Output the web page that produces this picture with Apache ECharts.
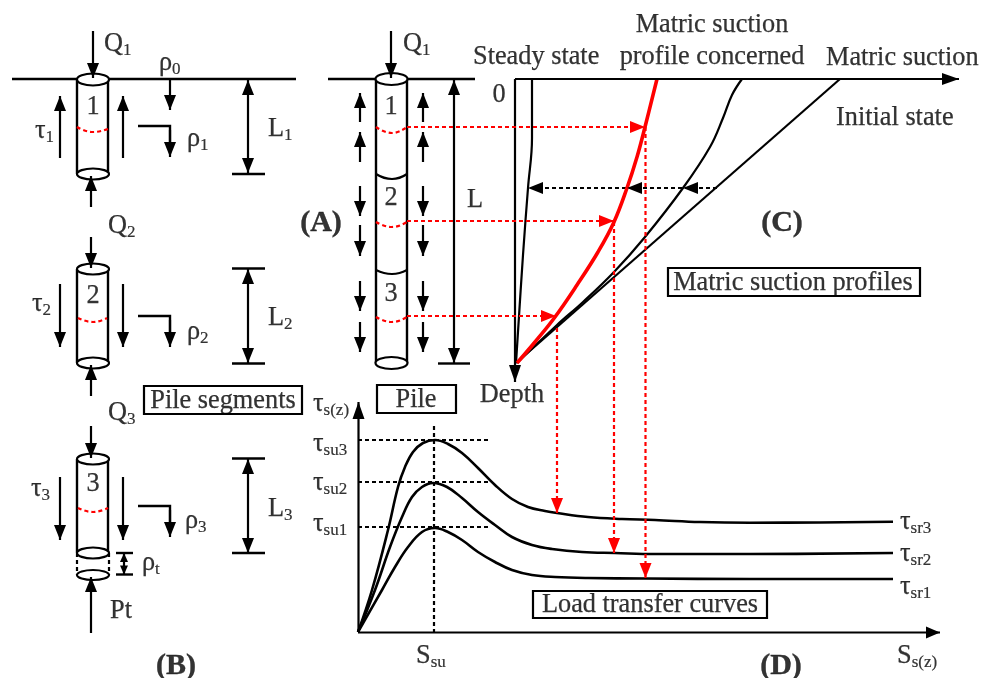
<!DOCTYPE html>
<html><head><meta charset="utf-8">
<style>html,body{margin:0;padding:0;background:#fff}#c{width:981px;height:678px}</style>
<script src="https://cdn.jsdelivr.net/npm/echarts@6/dist/echarts.min.js"></script>
</head><body><div id="c"></div>
<script>
// ---- straight black lines: each is a polyline of [x,y] in diagram units
const solidLines = [
  [[12,79],[77,79]], [[108,79],[296,79]],
  [[77,79],[77,174]], [[108,79],[108,174]],
  [[232,174],[265,174]],
  [[77,269],[77,363]], [[108,269],[108,363]],
  [[232,268.5],[265,268.5]], [[232,363.5],[265,363.5]],
  [[77,459],[77,553]], [[108,459],[108,553]],
  [[232,458.5],[265,458.5]], [[232,553],[265,553]],
  [[116,553],[133,553]], [[116,574.5],[133,574.5]],
  [[328,79],[376,79]], [[408,79],[475,79]],
  [[376,79],[376,363]], [[407,79],[407,363]],
  [[438,363.5],[470,363.5]]
];
const thinLines = [ [[840,79],[516,363]] ];
const benders = [
  [[138,126],[170,126],[170,145]],
  [[138,316],[170,316],[170,335]],
  [[138,506],[170,506],[170,525]]
];
// ---- arrows [x1,y1,x2,y2,headLength,headHalfWidth]
const singleArrows = [
  [93,31,93,78,15,6],[60,158,60,96,15,6],[123,158,123,96,15,6],[170,79,170,110,15,6],
  [170,130,170,157,15,6],[91,207,91,176,15,6],[91,237,91,268,15,6],
  [60,284,60,347,15,6],[123,284,123,347,15,6],[170,320,170,347,15,6],
  [91,396,91,365,15,6],[91,426,91,458,15,6],[91,633,91,577,15,6],
  [60,477,60,540,15,6],[123,477,123,540,15,6],[170,510,170,537,15,6],
  [391,31,391,78,15,6],
  [360,122,360,93,15,6],[423,122,423,93,15,6],[360,162,360,132,15,6],[423,162,423,132,15,6],
  [360,186,360,216,15,6],[423,186,423,216,15,6],[360,225,360,256,15,6],[423,225,423,256,15,6],
  [360,281,360,311,15,6],[423,281,423,311,15,6],[360,322,360,352,15,6],[423,322,423,352,15,6],
  [515,79,959,79,17,6],[515,79,515,382,17,6],[358.5,632,358.5,402,17,6],[358,632.5,940,632.5,14,6]
];
const doubleArrows = [
  [248,80,248,173,15,6],[248,269,248,363,15,6],[248,459,248,553,15,6],[454,80,454,363,15,6],
  [124,553,124,574.5,9,4]
];
const blackHeads = [ [717,188,528,188,15,6],[717,188,627,188,15,6],[717,188,683,188,15,6] ];
const redArrows = [
  [407,127,645,127,15,6],[407,221,614,221,15,6],[407,316,556,316,15,6],
  [645.5,127,645.5,578,15,6],[614,222,614,553,15,6],[557,328,557,513,15,6]
];
// ---- dashed black guides
const blackDashes = [
  [[717,188],[529,188]],
  [[358,440],[491,440]],[[358,482],[491,482]],[[358,527],[491,527]],
  [[434,426],[434,632]],
  [[77,553],[77,575]],[[109,553],[109,575]]
];
// ---- pile ellipses [cx,cy,rx,ry]
const pileEnds = [
  [93,79.5,16,6],[93,174,16,5.5],[93,269,16,5.5],[93,363,16,5.5],[93,459,16,5.5],[93,553,16,5.5],[93,575,16,5],
  [391.5,79,16,6],[391.5,363,16,6]
];
const segmentJoints = [ [[376,174],[392,179],[407,174]], [[376,270],[392,274],[407,270]] ];
const redSections = [
  [[77,127],[93,132],[108,129]],[[78,318],[93,322],[107,318]],[[78,508],[93,512],[108,508]],
  [[376,127],[392,133],[407,127]],[[376,222],[392,227],[407,222]],[[376,317],[392,322],[407,317]]
];
// ---- suction profiles (panel C)
const steadyProfile = [[532,79],[532,108],[532,138],[528,188],[523,255],[516,363]];
const currentProfile = [[742,79],[732,95],[723,118],[710,147],[683,188],[645,237],[614,272],[583,302],[557,325],[517,363]];
const concernedProfile = [[657,79],[645,127],[637,157],[627,188],[614,222],[598,252],[577,285],[555,317],[535,342],[517,363]];
// ---- load transfer curves (panel D)
const curve3 = [[358,632],[372,590],[388,530],[398,487],[405,467],[413,452],[423,443],[435,440],[448,444],[462,453],[478,468],[495,485],[512,499],[528,507],[545,511],[557,513],[588,517],[622,519],[655,520],[700,522],[750,522.7],[820,522.5],[893,521.7]];
const curve2 = [[358,632],[375,590],[390,547],[402,517],[412,497],[422,487],[433,483],[447,487],[462,498],[478,512],[495,525],[512,537],[532,545],[552,549],[582,552],[615,553],[655,554],[750,554],[893,553]];
const curve1 = [[358,632],[382,590],[395,567],[408,547],[422,532],[435,528],[448,532],[462,540],[478,552],[495,562],[512,570],[532,575],[555,577],[588,578],[645,578.5],[750,579],[893,579]];
// ---- framed captions [x1,y1,x2,y2]
const frames = [[144,386,302,414],[377,385,456,413],[668,268,920,296],[533,591,767,618]];
// ---- text [x,y,text,align]
const labels = [
  [104,43,'{b|Q}{s|1}','left'],[403,43,'{b|Q}{s|1}','left'],
  [159,62,'{b|ρ}{s|0}','left'],[35,130,'{b|τ}{s|1}','left'],[187,138,'{b|ρ}{s|1}','left'],
  [268,128,'{b|L}{s|1}','left'],[108,225,'{b|Q}{s|2}','left'],
  [32,303,'{b|τ}{s|2}','left'],[187,331,'{b|ρ}{s|2}','left'],[268,317,'{b|L}{s|2}','left'],
  [108,412,'{b|Q}{s|3}','left'],[31,488,'{b|τ}{s|3}','left'],[185,520,'{b|ρ}{s|3}','left'],
  [268,508,'{b|L}{s|3}','left'],[142,562,'{b|ρ}{s|t}','left'],[110,610,'{b|Pt}','left'],
  [93,106,'{b|1}','center'],[93,295,'{b|2}','center'],[93,483,'{b|3}','center'],
  [391,106,'{b|1}','center'],[391,197,'{b|2}','center'],[391,293,'{b|3}','center'],
  [467,199,'{b|L}','left'],
  [223,400,'{b|Pile segments}','center'],[416,399,'{b|Pile}','center'],
  [793,282,'{b|Matric suction profiles}','center'],[650,604,'{b|Load transfer curves}','center'],
  [473,56,'{b|Steady state}','left'],[712,24,'{b|Matric suction}','center'],[712,56,'{b|profile concerned}','center'],
  [826,57,'{b|Matric suction}','left'],[499,94,'{b|0}','center'],[836,117,'{b|Initial state}','left'],[512,394,'{b|Depth}','center'],
  [313,403,'{b|τ}{s|s(z)}','left'],[313,443,'{b|τ}{s|su3}','left'],[313,482,'{b|τ}{s|su2}','left'],[313,523,'{b|τ}{s|su1}','left'],
  [416,655,'{b|S}{s|su}','left'],[900,521,'{b|τ}{s|sr3}','left'],[900,553,'{b|τ}{s|sr2}','left'],[900,586,'{b|τ}{s|sr1}','left'],
  [897,655,'{b|S}{s|s(z)}','left'],
  [321,222,'{h|(A)}','center'],[176,665,'{h|(B)}','center'],[782,222,'{h|(C)}','center'],[781,665,'{h|(D)}','center']
];

const FONT = '"Liberation Serif","Times New Roman",serif';
const lineSeries = (pts, color, width, type, smooth) => ({
  type:'line', data:pts, showSymbol:false, symbol:'none', silent:true, animation:false,
  smooth: smooth||false, lineStyle:{color, width, type:type||'solid', cap:'butt', join:'miter'}, z:3
});
function head(api, a, color){
  const L=a[4], H=a[5];
  const t=api.coord([a[2],a[3]]), s=api.coord([a[0],a[1]]);
  const dx=t[0]-s[0], dy=t[1]-s[1], d=Math.hypot(dx,dy), ux=dx/d, uy=dy/d;
  return {type:'polygon', shape:{points:[t,[t[0]-ux*L-uy*H,t[1]-uy*L+ux*H],[t[0]-ux*L+uy*H,t[1]-uy*L-ux*H]]}, style:{fill:color}};
}
const arrowSeries = (rows, color, dash, both) => ({
  type:'custom', silent:true, animation:false, z:6, clip:false,
  data:rows, encode:{x:[0,2],y:[1,3]},
  renderItem(p, api){
    const a=[0,1,2,3,4,5].map(i=>api.value(i));
    const s=api.coord([a[0],a[1]]), t=api.coord([a[2],a[3]]);
    const kids=[{type:'line',shape:{x1:s[0],y1:s[1],x2:t[0],y2:t[1]},style:{stroke:color,lineWidth:2.2,lineDash:dash||null}}, head(api,a,color)];
    if(both) kids.push(head(api,[a[2],a[3],a[0],a[1],a[4],a[5]],color));
    return {type:'group',children:kids};
  }
});
const headsOnly = rows => ({
  type:'custom', silent:true, animation:false, z:6, data:rows, encode:{x:[0,2],y:[1,3]},
  renderItem(p, api){ return head(api,[0,1,2,3,4,5].map(i=>api.value(i)),'#000'); }
});
const ellipseSeries = {
  type:'custom', silent:true, animation:false, z:5, data:pileEnds, encode:{x:0,y:1},
  renderItem(p, api){
    const c=api.coord([api.value(0),api.value(1)]);
    const e=api.coord([api.value(0)+api.value(2),api.value(1)+api.value(3)]);
    return {type:'ellipse',shape:{cx:c[0],cy:c[1],rx:e[0]-c[0],ry:e[1]-c[1]},style:{fill:'#fff',stroke:'#000',lineWidth:2.2}};
  }
};
const frameSeries = {
  type:'custom', silent:true, animation:false, z:7, data:frames, encode:{x:[0,2],y:[1,3]},
  renderItem(p, api){
    const a=api.coord([api.value(0),api.value(1)]), b=api.coord([api.value(2),api.value(3)]);
    return {type:'rect',shape:{x:a[0],y:a[1],width:b[0]-a[0],height:b[1]-a[1]},style:{fill:'#fff',stroke:'#000',lineWidth:2.2}};
  }
};
const textSeries = {
  type:'scatter', silent:true, animation:false, z:9, symbolSize:0, itemStyle:{color:'transparent'},
  data:labels.map(l=>({value:[l[0],l[1]+1],label:{formatter:l[2],align:l[3]}})),
  label:{show:true,position:'inside',verticalAlign:'middle',color:'#000',
    rich:{
      b:{fontFamily:FONT,fontSize:26.3,color:'#000',lineHeight:30,verticalAlign:'middle',textBorderColor:'#000',textBorderWidth:0.25},
      s:{fontFamily:FONT,fontSize:17,color:'#000',lineHeight:30,verticalAlign:'bottom',textBorderColor:'#000',textBorderWidth:0.2},
      h:{fontFamily:FONT,fontSize:30,fontWeight:'bold',color:'#000',lineHeight:34,textBorderColor:'#000',textBorderWidth:0.4}
    }},
  labelLayout:{hideOverlap:false}
};
const series = [];
solidLines.concat(benders).forEach(l=>series.push(lineSeries(l,'#000',2.4)));
thinLines.forEach(l=>series.push(lineSeries(l,'#000',2.2)));
blackDashes.forEach(l=>series.push(lineSeries(l,'#000',2.2,[4,3])));
segmentJoints.forEach(l=>series.push(lineSeries(l,'#000',2.2,'solid',0.5)));
redSections.forEach(l=>series.push(lineSeries(l,'#f00',2.2,[4,3],0.5)));
series.push(lineSeries(steadyProfile,'#000',2.2,'solid',0.4));
series.push(lineSeries(currentProfile,'#000',2.2,'solid',0.4));
series.push(lineSeries(concernedProfile,'#f00',3.6,'solid',0.4));
series.push(lineSeries(curve3,'#000',2.6,'solid',0.4));
series.push(lineSeries(curve2,'#000',2.6,'solid',0.4));
series.push(lineSeries(curve1,'#000',2.6,'solid',0.4));
series.push(arrowSeries(singleArrows,'#000'));
series.push(arrowSeries(doubleArrows,'#000',null,true));
series.push(headsOnly(blackHeads));
series.push(arrowSeries(redArrows,'#f00',[4,3]));
series.push(ellipseSeries, frameSeries, textSeries);

const chart = echarts.init(document.getElementById('c'), null, {renderer:'canvas'});
chart.setOption({
  animation:false, backgroundColor:'#fff', tooltip:{show:false},
  grid:{left:0,right:0,top:0,bottom:0},
  xAxis:{type:'value',min:0,max:981,show:false},
  yAxis:{type:'value',min:0,max:678,inverse:true,show:false},
  series
});
</script></body></html>
